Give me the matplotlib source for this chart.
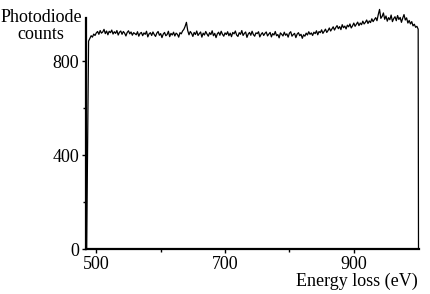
import numpy as np
import matplotlib.pyplot as plt

plt.rcParams["font.family"] = ["Liberation Serif", "DejaVu Serif"]

# Spectrum (eV, counts), 2 eV steps plus the two edges
energy = np.concatenate([[485], np.arange(488, 1001, 2), [1000.5]])
counts = np.array([
    0,
    885, 896, 908, 902, 915, 909, 920,
    926, 914, 930, 919, 924, 935, 917, 928, 912, 927, 921, 932, 915, 925, 918,
    930, 911, 923, 928, 914, 926, 919, 907, 922, 929, 916, 924, 910, 921, 917,
    912, 925, 906, 918, 922, 908, 920, 914, 927, 903, 916, 921, 909, 924, 913,
    905, 919, 926, 910, 917, 900, 915, 922, 908, 913, 927, 904, 918, 911, 923,
    907, 919, 914, 902, 921, 916, 928, 935,
    948, 965, 930, 912, 926, 918,
    905, 922, 913, 928, 909, 917, 924, 902, 919, 911, 926, 915, 906, 921, 913,
    929, 908, 918, 900, 916, 923, 910, 927, 914, 906, 920,
    913, 925, 908, 919, 904, 922, 916, 928, 911, 905, 921, 914, 930, 909, 918,
    924, 901, 915, 922, 910, 927, 913, 906, 920, 917, 925, 903, 914, 921, 909,
    918, 924, 907, 915, 922, 903, 917, 911, 926, 908, 913, 899, 920, 914, 907,
    923, 910, 916, 902, 919, 925, 906, 913, 918, 900, 915, 921, 908, 914, 897,
    912, 906, 919, 911, 925, 914, 920, 909, 923, 917, 929, 912, 926, 921, 933,
    918, 927, 936, 922, 930,
    941, 928, 937, 946, 932, 943, 951, 938, 947, 934, 955, 942, 949, 937, 953,
    946, 958, 941, 950, 962,
    948, 957, 966, 951, 962, 955, 970, 958, 965, 975, 960, 971, 964, 980, 968,
    977, 985, 972,
    998, 1020, 982, 990, 1005, 978,
    992, 970, 985, 976, 996, 968, 981, 989, 972, 994, 977, 986, 965, 983, 998, 975,
    984, 962, 973, 958, 968, 950, 957, 944, 948, 936,
    0,
])

x_ticks = [500, 700, 900]
x_minor = [600, 800]
y_ticks = [0, 400, 800]
y_minor = [200, 600]

fig = plt.figure(figsize=(4.3, 2.94), dpi=100)
ax = fig.add_axes([0.2, 0.153, 0.774, 0.799])
ax.plot(energy, counts, color="black", lw=0.9, clip_on=False)

ax.set_xlim(484, 1001)
ax.set_ylim(0, 1000)
ax.set_xticks(x_ticks)
ax.set_xticks(x_minor, minor=True)
ax.set_yticks(y_ticks)
ax.set_yticks(y_minor, minor=True)
ax.tick_params(which="both", direction="out", length=3, width=1, labelsize=13, pad=2)
ax.tick_params(which="minor", length=2)

for s in ["top", "right"]:
    ax.spines[s].set_visible(False)
ax.spines["left"].set_linewidth(1.6)
ax.spines["bottom"].set_linewidth(1.6)
ax.spines["left"].set_bounds(0, 983)

fig.text(41 / 430, 1 - 26 / 294, "Photodiode\ncounts", ha="center", va="center",
         fontsize=13, linespacing=1.05)
fig.text(418 / 430, 1 - 281 / 294, "Energy loss (eV)", ha="right", va="center", fontsize=13)

fig.savefig("out.png", dpi=100)
